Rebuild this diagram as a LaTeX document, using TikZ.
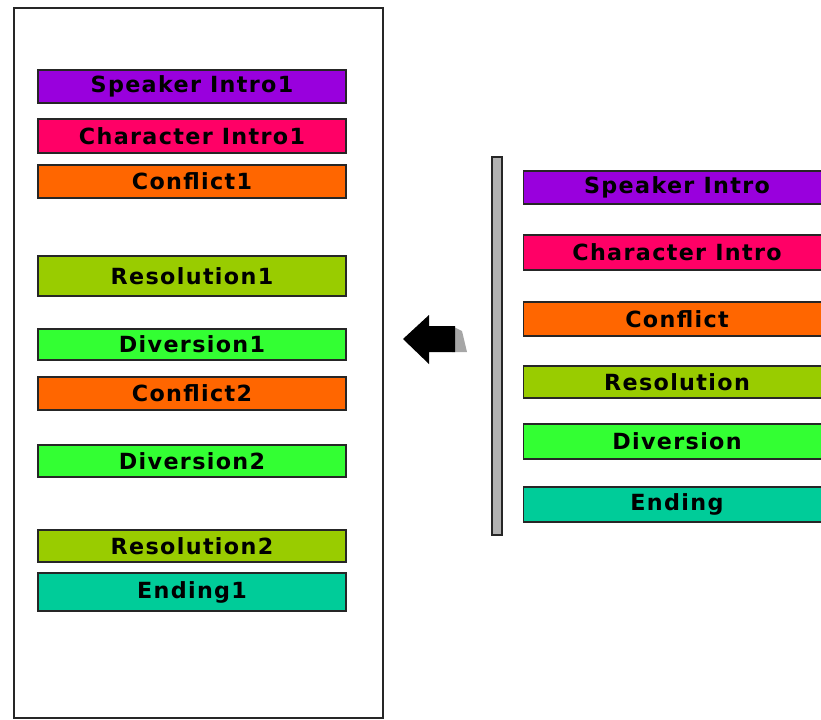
\documentclass[tikz,border=0pt]{standalone}
\usepackage{fontspec}
\usepackage{tikz}
\newfontfamily\barfont[LetterSpace=6]{DejaVu Sans}
\definecolor{speakerviolet}{RGB}{153,0,221}
\definecolor{characterrose}{RGB}{255,0,102}
\definecolor{conflictorange}{RGB}{255,102,0}
\definecolor{resolutionlime}{RGB}{153,204,0}
\definecolor{diversiongreen}{RGB}{51,255,51}
\definecolor{endingteal}{RGB}{0,204,153}
\tikzset{
  bar/.style={draw=black!85,line width=1pt,inner sep=0pt,minimum width=9.24cm,
    font=\barfont\bfseries\fontsize{19}{22}\selectfont,text=black}
}

\begin{document}
\begin{tikzpicture}[x=0.03cm,y=-0.03cm]
				\useasboundingbox (0,0) rectangle (821,719);
				\clip (0,0) rectangle (821,719);
				% story frame
				\draw[line width=1.6pt,black!85] (14,8) rectangle (383,718);
				\foreach \n/\t/\c/\ya/\yb in {l1/Speaker Intro1/speakerviolet/70/103,
					l2/Character Intro1/characterrose/119/153,
					l3/Conflict1/conflictorange/165/198,
					l4/Resolution1/resolutionlime/256/296,
					l5/Diversion1/diversiongreen/329/360,
					l6/Conflict2/conflictorange/377/410,
					l7/Diversion2/diversiongreen/445/477,
					l8/Resolution2/resolutionlime/530/562,
					l9/Ending1/endingteal/573/611}
				\node[bar,fill=\c,minimum height={(\yb-\ya)*0.03cm}] (\n) at (192,{(\ya+\yb)/2}) {\t};
				% palette
				\draw[black!85,fill=gray!60,line width=0.9pt] (492,157) rectangle (502,535);
				\foreach \n/\t/\c/\ya/\yb in {r1/Speaker Intro/speakerviolet/171/204,
					r2/Character Intro/characterrose/235/270,
					r3/Conflict/conflictorange/302/336,
					r4/Resolution/resolutionlime/366/398,
					r5/Diversion/diversiongreen/424/459,
					r6/Ending/endingteal/487/522}
				\node[bar,fill=\c,minimum width=9.21cm,minimum height={(\yb-\ya)*0.03cm}] (\n) at (677,{(\ya+\yb)/2}) {\t};
				% arrow
				\fill[gray!70] (452,326)--(462,331)--(467,352)--(452,352)--cycle;
				\fill[black] (403,339)--(429,315)--(429,326)--(455,326)--(455,352)--(429,352)--(429,364)--cycle;
			\end{tikzpicture}
\end{document}
